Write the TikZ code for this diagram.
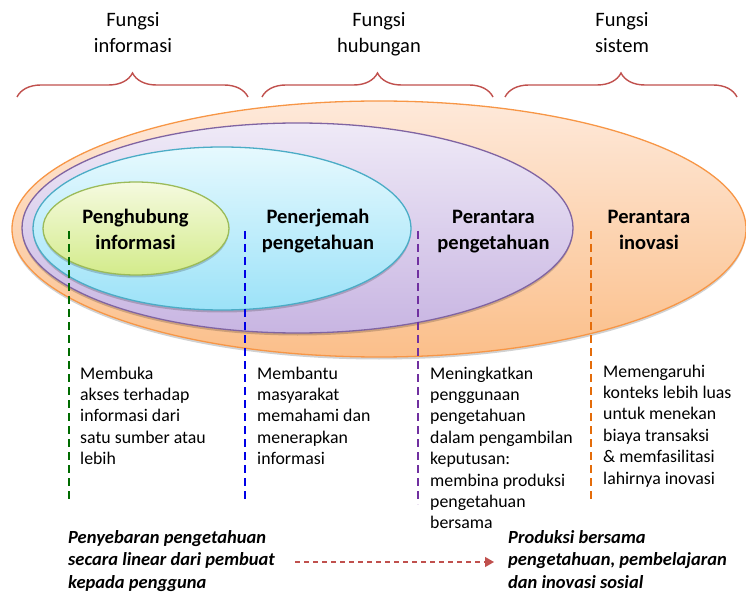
\documentclass[tikz,border=0pt]{standalone}
\usepackage{fontspec}
\setmainfont{Carlito}
\usetikzlibrary{shapes.geometric,shadows,arrows.meta,decorations.pathreplacing}

\definecolor{bracered}{HTML}{C0504D}
\definecolor{orgline}{HTML}{F79646}
\definecolor{orgtop}{HTML}{FEE9DA}
\definecolor{orgbot}{HTML}{FBBF8A}
\definecolor{purline}{HTML}{8064A2}
\definecolor{purtop}{HTML}{EFEAF7}
\definecolor{purbot}{HTML}{C8B5E2}
\definecolor{cyaline}{HTML}{4BACC6}
\definecolor{cyatop}{HTML}{E6F9FE}
\definecolor{cyabot}{HTML}{9CE2F8}
\definecolor{grnline}{HTML}{9BBB59}
\definecolor{grntop}{HTML}{F5FADF}
\definecolor{grnbot}{HTML}{D3EB8B}
\definecolor{dashgreen}{HTML}{006B00}
\definecolor{dashblue}{HTML}{0000E6}
\definecolor{dashpurple}{HTML}{7030A0}
\definecolor{dashorange}{HTML}{E46C0A}

\tikzset{
  ring/.style={ellipse, inner sep=0pt, line width=1.3pt,
    drop shadow={shadow xshift=0pt, shadow yshift=-2.5pt, opacity=0.18, fill=black}},
  headtxt/.style={anchor=north, align=center, inner sep=0pt,
    font=\fontsize{20.5}{26}\selectfont},
  ringtxt/.style={anchor=north, align=center, inner sep=0pt,
    font=\fontsize{20.5}{25.5}\selectfont\bfseries},
  desctxt/.style={anchor=north west, align=left, inner sep=0pt,
    font=\fontsize{17.8}{21.4}\selectfont},
  flowtxt/.style={anchor=north west, align=left, inner sep=0pt,
    font=\fontsize{18.5}{22.5}\selectfont\bfseries\itshape},
  fnbrace/.style={draw=bracered, line width=1.4pt,
    decorate, decoration={brace, amplitude=24pt}},
  guide/.style={line width=2.7pt, dash pattern=on 8pt off 5pt},
}

\begin{document}
\begin{tikzpicture}[x=1pt, y=-1pt]
\useasboundingbox (0,0) rectangle (746,593);

% function headings
\node[headtxt] (hinfo) at (133,8) {\strut Fungsi\\informasi};
\node[headtxt] (hrel)  at (379,8) {\strut Fungsi\\hubungan};
\node[headtxt] (hsys)  at (622,8) {\strut Fungsi\\sistem};

% braces under the headings
\coordinate (b1l) at (17,97);  \coordinate (b1r) at (248,97);
\coordinate (b2l) at (262,97); \coordinate (b2r) at (493,97);
\coordinate (b3l) at (505,97); \coordinate (b3r) at (737,97);
\draw[fnbrace] (b1l) -- (b1r);
\draw[fnbrace] (b2l) -- (b2r);
\draw[fnbrace] (b3l) -- (b3r);

% nested roles
\node[ring, draw=orgline, top color=orgtop, bottom color=orgbot,
      minimum width=734pt, minimum height=256pt] (inov) at (379,229) {};
\node[ring, draw=purline, top color=purtop, bottom color=purbot,
      minimum width=551pt, minimum height=210pt] (know) at (297.5,228) {};
\node[ring, draw=cyaline, top color=cyatop, bottom color=cyabot,
      minimum width=378pt, minimum height=163pt] (trans) at (222,228.5) {};
\node[ring, draw=grnline, top color=grntop, bottom color=grnbot,
      minimum width=186pt, minimum height=93pt] (link) at (136,228.5) {};

\node[ringtxt] (tlink)  at (135.5,205.5) {\strut Penghubung\\informasi};
\node[ringtxt] (ttrans) at (318,205.5)   {\strut Penerjemah\\pengetahuan};
\node[ringtxt] (tknow)  at (493.5,205.5) {\strut Perantara\\pengetahuan};
\node[ringtxt] (tinov)  at (649,205.5)   {\strut Perantara\\inovasi};

% dashed guides
\coordinate (g1t) at (69,231);  \coordinate (g1b) at (69,502);
\coordinate (g2t) at (245,231); \coordinate (g2b) at (245,502);
\coordinate (g3t) at (418,231); \coordinate (g3b) at (418,504);
\coordinate (g4t) at (591,231); \coordinate (g4b) at (591,503);
\draw[guide, dashgreen]  (g1t) -- (g1b);
\draw[guide, dashblue]   (g2t) -- (g2b);
\draw[guide, dashpurple] (g3t) -- (g3b);
\draw[guide, dashorange] (g4t) -- (g4b);

% descriptions
\node[desctxt] (dlink) at (80,364)
  {\strut Membuka\\akses terhadap\\informasi dari\\satu sumber atau\\lebih};
\node[desctxt] (dtrans) at (257,364)
  {\strut Membantu\\masyarakat\\memahami dan\\menerapkan\\informasi};
\node[desctxt] (dknow) at (430,364)
  {\strut Meningkatkan\\penggunaan\\pengetahuan\\dalam pengambilan\\keputusan:\\membina produksi\\pengetahuan\\bersama};
\node[desctxt] (dinov) at (603,362)
  {\strut Memengaruhi\\konteks lebih luas\\untuk menekan\\biaya transaksi\\\& memfasilitasi\\lahirnya inovasi};

% from linear flow to co-production
\node[flowtxt] (linear) at (68,527.5)
  {\strut Penyebaran pengetahuan\\secara linear dari pembuat\\kepada pengguna};
\node[flowtxt] (coprod) at (508,527.5)
  {\strut Produksi bersama\\pengetahuan, pembelajaran\\dan inovasi sosial};
\coordinate (arrs) at (295,562);
\coordinate (arre) at (494,562);
\draw[bracered, line width=1.3pt, dash pattern=on 5pt off 4pt,
      -{Triangle[length=9pt, width=10pt]}] (arrs) -- (arre);
\end{tikzpicture}
\end{document}
